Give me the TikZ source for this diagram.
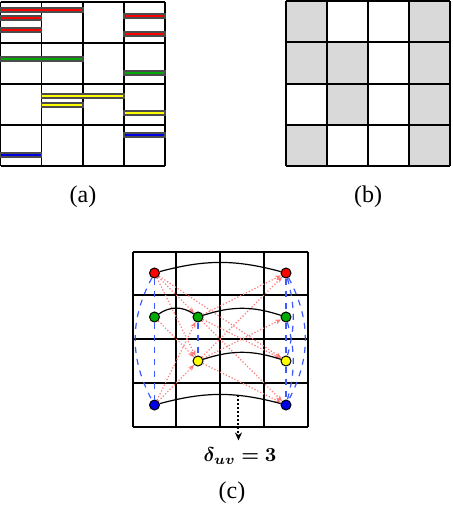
\documentclass[tikz,border=0pt]{standalone}
\usepackage{fontspec}
\setmainfont{Liberation Serif}
\usepackage{amsmath,amssymb,bm}
\usetikzlibrary{arrows.meta, positioning, calc}
\definecolor{cellgray}{RGB}{217,217,217}
\definecolor{slotred}{RGB}{255,0,0}
\definecolor{slotgreen}{RGB}{0,170,0}
\definecolor{slotyellow}{RGB}{255,255,0}
\definecolor{slotblue}{RGB}{0,0,230}
\definecolor{linkblue}{RGB}{60,90,255}
\definecolor{linkred}{RGB}{255,120,120}

\begin{document}
\begin{tikzpicture}[x=0.5pt, y=-0.5pt,
    gridline/.style={line width=0.7pt, draw=black},
    slot/.style={fill=#1, draw=black!70, line width=0.6pt},
    task/.style={circle, draw=black, fill=#1, line width=0.5pt, inner sep=0pt, minimum size=5pt},
    samerow/.style={line width=0.6pt, black},
    samecol/.style={dashed, line width=0.6pt, color=linkblue},
    conflict/.style={densely dotted, line width=0.6pt, color=linkred, -{Stealth[length=3pt, width=2.5pt]}},
    caption/.style={font=\fontsize{12}{14}\selectfont}
]
\useasboundingbox (0,0) rectangle (452,514);

% (a) schedule with slots
\foreach \x in {0.5,41.7,83,124,165} \draw[gridline] (\x,2) -- (\x,166);
\foreach \y in {2,43,84,125,166} \draw[gridline] (0.5,\y) -- (165,\y);
\foreach \xa/\xb/\y/\c in {0.5/83/10/slotred, 0.5/41.7/18/slotred, 0.5/41.7/30/slotred,
    124/165/16/slotred, 124/165/34/slotred,
    0.5/83/59/slotgreen, 124/165/73/slotgreen,
    41.7/124/96/slotyellow, 41.7/83/105/slotyellow, 124/165/113/slotyellow,
    124/165/135/slotblue, 0.5/41.7/155/slotblue}
    \draw[slot=\c] (\xa,\y-2) rectangle (\xb,\y+2);
\node[caption] (capa) at (83,197) {(a)};

% (b) occupied cells
\foreach \i/\j in {1/1,4/1,1/2,2/2,4/2,2/3,4/3,1/4,4/4}
    \fill[cellgray] (286+41*\i-41,1+41.25*\j-41.25) rectangle (286+41*\i,1+41.25*\j);
\foreach \x in {286,327,368,409,450} \draw[gridline] (\x,1) -- (\x,166);
\foreach \y in {1,42,84,125,166} \draw[gridline] (286,\y) -- (450,\y);
\node[caption] (capb) at (368,197) {(b)};

% (c) graph on the grid
\foreach \x in {133,176,220,264,308} \draw[gridline] (\x,252) -- (\x,427);
\foreach \y in {252,295,339,383,427} \draw[gridline] (133,\y) -- (308,\y);

\node[task=slotred] (r1) at (154.5,273) {};
\node[task=slotred] (r4) at (286,273) {};
\node[task=slotgreen] (g1) at (154.5,317) {};
\node[task=slotgreen] (g2) at (198,317) {};
\node[task=slotgreen] (g4) at (286,317) {};
\node[task=slotyellow] (y2) at (198,361) {};
\node[task=slotyellow] (y4) at (286,361) {};
\node[task=slotblue] (b1) at (154.5,405) {};
\node[task=slotblue] (b4) at (286,405) {};

% same column
\draw[samecol] (r1) -- (g1);
\draw[samecol] (g1) -- (b1);
\draw[samecol] (r1) to[bend right=28] (b1);
\draw[samecol] (g2) -- (y2);
\draw[samecol] (r4) -- (g4);
\draw[samecol] (g4) -- (y4);
\draw[samecol] (y4) -- (b4);
\draw[samecol] (r4) to[bend left=15] (y4);
\draw[samecol] (g4) to[bend left=15] (b4);
\draw[samecol] (r4) to[bend left=28] (b4);

% conflicts
\draw[conflict] (r1) -- (g2);
\draw[conflict] (r1) -- (y2);
\draw[conflict] (r1) -- (y4);
\draw[conflict] (g1) -- (y2);
\draw[conflict] (b1) -- (g2);
\draw[conflict] (b1) -- (y2);
\draw[conflict] (g2) -- (r4);
\draw[conflict] (g2) -- (y4);
\draw[conflict] (g2) -- (b4);
\draw[conflict] (y2) -- (r4);
\draw[conflict] (y2) -- (g4);
\draw[conflict] (y2) -- (b4);

% same row
\draw[samerow] (r1) to[bend left=15] (r4);
\draw[samerow] (g1) to[bend left=35] (g2);
\draw[samerow] (g2) to[bend left=18] (g4);
\draw[samerow] (y2) to[bend left=18] (y4);
\draw[samerow] (b1) to[bend left=15] coordinate[pos=0.66] (bgap) (b4);

\node[caption, font=\fontsize{10}{12}\selectfont] (delta) at (240,456) {$\boldsymbol{\delta_{uv}=3}$};
\draw[densely dotted, line width=1pt, -{Stealth[length=4pt, width=3.5pt]}] (bgap) -- (bgap |- delta.north);
\node[caption] (capc) at (232,493) {(c)};
\end{tikzpicture}
\end{document}
